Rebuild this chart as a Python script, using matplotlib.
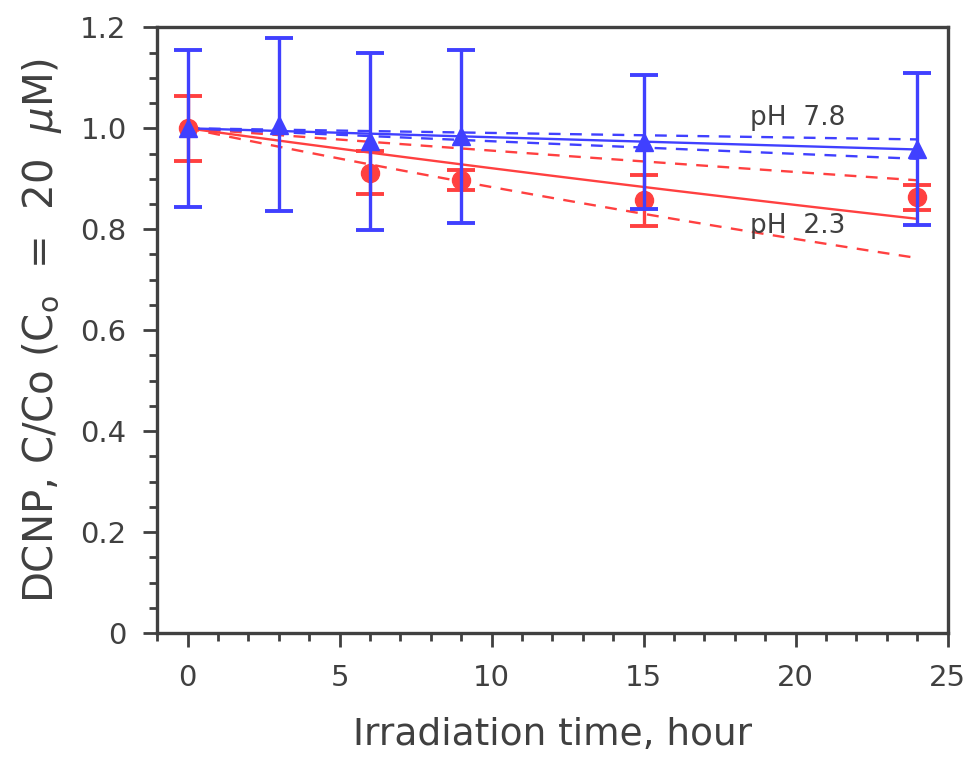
import numpy as np
import matplotlib
matplotlib.use("Agg")
import matplotlib.pyplot as plt
from matplotlib import font_manager
from matplotlib.ticker import MultipleLocator

# data
t_low = [0, 6, 9, 15, 24]                      # pH 2.3
c_low = [1.0, 0.912, 0.897, 0.857, 0.863]
err_low = [0.064, 0.043, 0.020, 0.050, 0.025]

t_high = [0, 3, 6, 9, 15, 24]                  # pH 7.8
c_high = [1.0, 1.007, 0.974, 0.984, 0.973, 0.959]
err_high = [0.155, 0.171, 0.175, 0.172, 0.133, 0.150]

# first-order fits C/Co = exp(-k t): best fit, upper, lower (1/hour)
k_low = [0.00824, 0.00453, 0.01238]
k_high = [0.00179, 0.00093, 0.00260]

red = '#ff4040'
blue = '#4040ff'
grey = '#404040'

names = {f.name for f in font_manager.fontManager.ttflist}
fam = 'Liberation Sans Narrow' if 'Liberation Sans Narrow' in names else 'DejaVu Sans'
plt.rcParams['font.family'] = [fam, 'DejaVu Sans']

fig = plt.figure(figsize=(9.7, 7.65), dpi=100)
ax = fig.add_axes([0.162, 0.1725, 0.815, 0.7918])

# fitted lines
tt = np.linspace(0, 24, 100)
ax.plot(tt, np.exp(-k_low[0] * tt), color=red, lw=1.7)
ax.plot(tt, np.exp(-k_low[1] * tt), color=red, lw=1.7, dashes=(5, 4))
ax.plot(tt, np.exp(-k_low[2] * tt), color=red, lw=1.7, dashes=(5, 4))
ax.plot(tt, np.exp(-k_high[0] * tt), color=blue, lw=1.7)
ax.plot(tt, np.exp(-k_high[1] * tt), color=blue, lw=1.7, dashes=(5, 4))
ax.plot(tt, np.exp(-k_high[2] * tt), color=blue, lw=1.7, dashes=(5, 4))

# measured points with error bars
ax.errorbar(t_low, c_low, yerr=err_low, fmt='o', color=red, ms=13,
            elinewidth=2.4, capsize=10, capthick=2.8, zorder=3)
ax.errorbar(t_high, c_high, yerr=err_high, fmt='^', color=blue, ms=13,
            elinewidth=2.4, capsize=10, capthick=2.8, zorder=4)

ax.text(18.5, 1.02, 'pH  7.8', fontsize=19, color=grey, va='center')
ax.text(18.5, 0.807, 'pH  2.3', fontsize=19, color=grey, va='center')

ax.set_xlim(-1, 25)
ax.set_ylim(0, 1.2)
ax.set_xticks([0, 5, 10, 15, 20, 25])
ax.set_yticks([0, 0.2, 0.4, 0.6, 0.8, 1.0, 1.2])
ax.set_yticklabels(['0', '0.2', '0.4', '0.6', '0.8', '1.0', '1.2'])
ax.xaxis.set_minor_locator(MultipleLocator(1))
ax.yaxis.set_minor_locator(MultipleLocator(0.05))
ax.tick_params(which='major', direction='out', length=10, width=2,
               color=grey, labelcolor=grey, labelsize=21, pad=12)
ax.tick_params(which='minor', direction='out', length=6, width=2, color=grey)
for s in ax.spines.values():
    s.set_linewidth(2.4)
    s.set_color(grey)

ax.set_xlabel('Irradiation time, hour', fontsize=27, color=grey, labelpad=18)
ax.set_ylabel(r'DCNP, C/Co (C$_\mathrm{o}$  =  20  $\mu$M)', fontsize=29,
              color=grey, labelpad=12)

plt.savefig('out.png', dpi=100)
